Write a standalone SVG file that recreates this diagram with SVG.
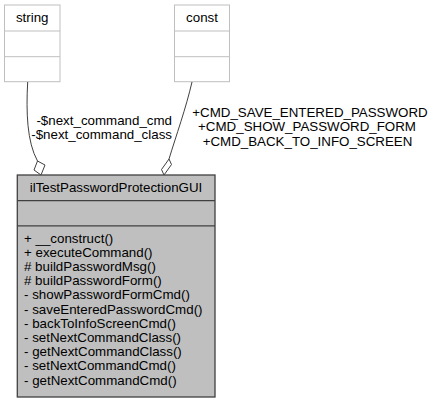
<svg xmlns="http://www.w3.org/2000/svg" width="437" height="404" viewBox="0 0 437 404">
<style>
text{font-family:"Liberation Sans",Arial,Helvetica,sans-serif;font-size:13.33px;fill:#000}
.ext{fill:#fff;stroke:#bfbfbf;stroke-width:1}
.main{fill:#bfbfbf;stroke:#404040;stroke-width:1.3}
.div{stroke:#404040;stroke-width:1.3}
.extdiv{stroke:#bfbfbf;stroke-width:1}
.edge{fill:none;stroke:#404040;stroke-width:1}
.dia{fill:#fff;stroke:#404040;stroke-width:1}
.mid{text-anchor:middle}
.end{text-anchor:end}
</style>
<rect width="437" height="404" fill="#fff"/>
<g id="node-string">
<rect class="ext" x="4.5" y="5" width="55.5" height="76.7"/>
<line class="extdiv" x1="4.5" y1="31" x2="60" y2="31"/>
<line class="extdiv" x1="4.5" y1="56.7" x2="60" y2="56.7"/>
<text class="mid" x="32.2" y="22">string</text>
</g>
<g id="node-const">
<rect class="ext" x="174.5" y="5" width="55" height="76.7"/>
<line class="extdiv" x1="174.5" y1="31" x2="229.5" y2="31"/>
<line class="extdiv" x1="174.5" y1="56.7" x2="229.5" y2="56.7"/>
<text class="mid" x="202" y="22">const</text>
</g>
<g id="node-main">
<rect class="main" x="17.3" y="175" width="197.7" height="222"/>
<line class="div" x1="17.3" y1="200.7" x2="215" y2="200.7"/>
<line class="div" x1="17.3" y1="225.8" x2="215" y2="225.8"/>
<text class="mid" x="116" y="192">ilTestPasswordProtectionGUI</text>
<text x="24" y="242.5">+ __construct()</text>
<text x="24" y="256.7">+ executeCommand()</text>
<text x="24" y="270.9"># buildPasswordMsg()</text>
<text x="24" y="285.1"># buildPasswordForm()</text>
<text x="24" y="299.3">- showPasswordFormCmd()</text>
<text x="24" y="313.5">- saveEnteredPasswordCmd()</text>
<text x="24" y="327.7">- backToInfoScreenCmd()</text>
<text x="24" y="341.9">- setNextCommandClass()</text>
<text x="24" y="356.1">- getNextCommandClass()</text>
<text x="24" y="370.3">- setNextCommandCmd()</text>
<text x="24" y="384.5">- getNextCommandCmd()</text>
</g>
<g id="connectors">
<path class="edge" d="M27.7,82 C26,112 27,142 37.5,161"/>
<polygon class="dia" points="37.5,161 45,165 41,175 34,170"/>
<text class="end" x="172" y="124.5">-$next_command_cmd</text>
<text class="end" x="172" y="139">-$next_command_class</text>
<path class="edge" d="M192,82 C186,108 176,136 169,159"/>
<polygon class="dia" points="169,159 171.5,164.5 164,175 161.5,169.5"/>
<text class="mid" x="310" y="116.5">+CMD_SAVE_ENTERED_PASSWORD</text>
<text class="mid" x="307" y="131">+CMD_SHOW_PASSWORD_FORM</text>
<text class="mid" x="307.5" y="146">+CMD_BACK_TO_INFO_SCREEN</text>
</g>
</svg>
